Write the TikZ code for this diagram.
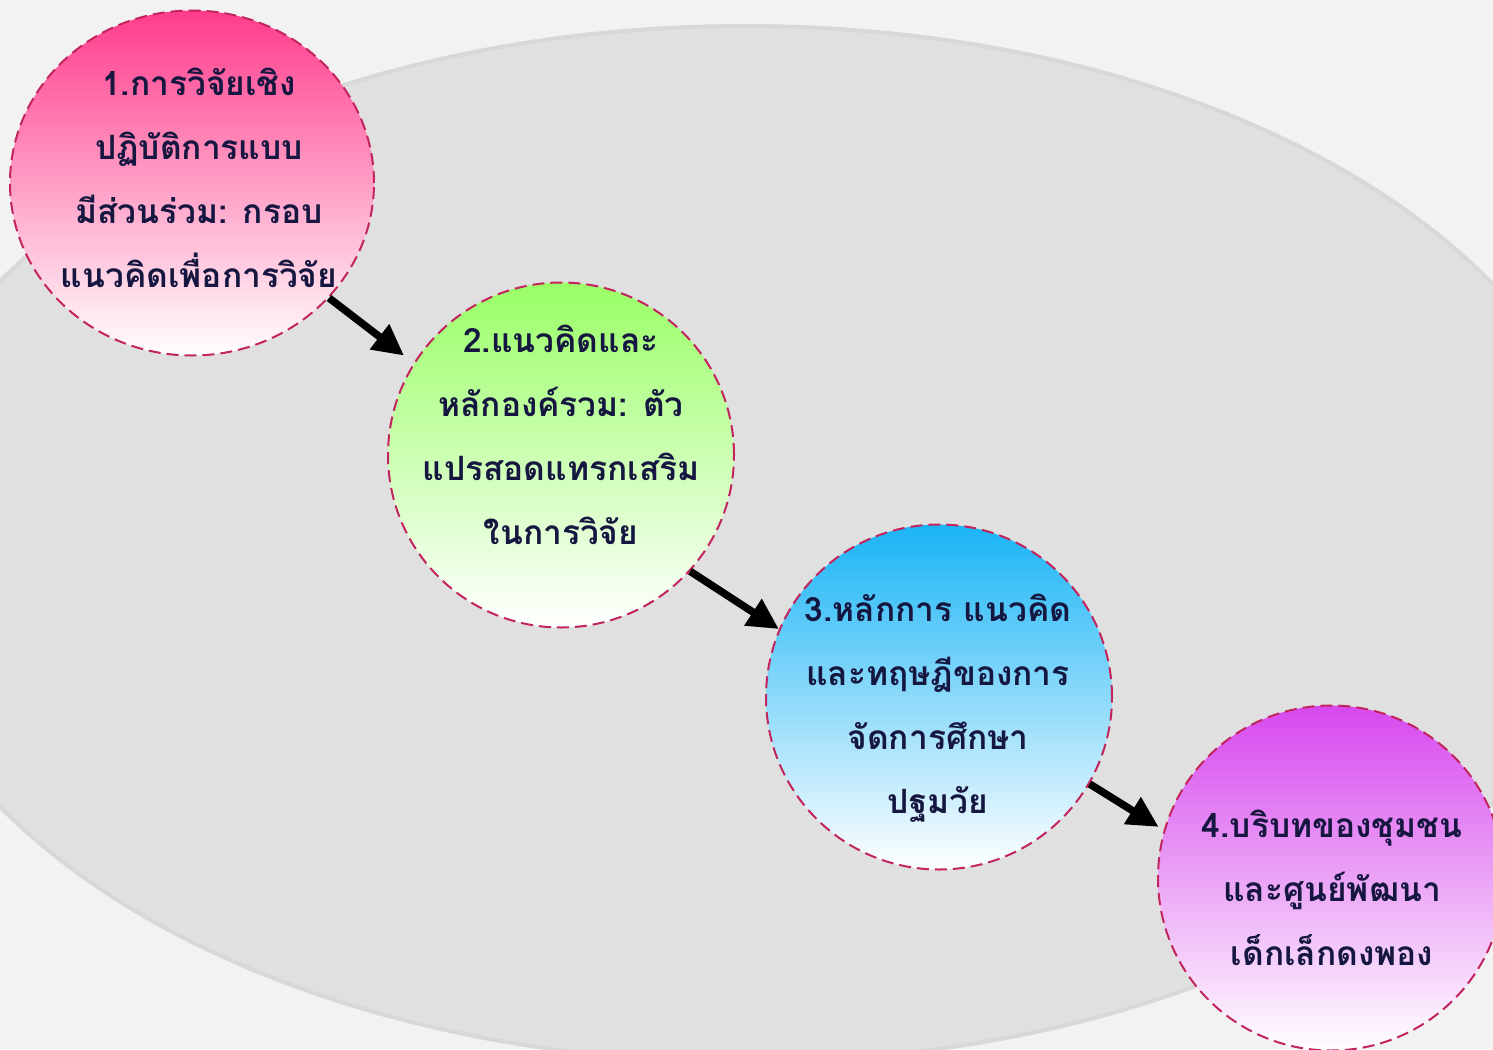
\documentclass[tikz,border=0pt]{standalone}
\usepackage{fontspec}
\newfontfamily\thaifont[Script=Thai]{Loma}
\usetikzlibrary{arrows.meta,shapes.geometric}
\definecolor{bgc}{HTML}{F2F2F2}
\definecolor{ellfill}{HTML}{E0E0E0}
\definecolor{elldraw}{HTML}{D8D8D8}
\definecolor{dashc}{HTML}{C2245E}
\definecolor{txtc}{HTML}{161740}
\definecolor{pinkc}{HTML}{FF3C8C}
\definecolor{greenc}{HTML}{99FF66}
\definecolor{bluec}{HTML}{19B4F6}
\definecolor{violc}{HTML}{D748EE}
\tikzset{
  bubble/.style={ellipse, draw=dashc, line width=2pt, dash pattern=on 12pt off 6pt,
    minimum width=346pt, minimum height=345pt, inner sep=0pt, bottom color=white},
  btext/.style={align=center, text=txtc, inner sep=0pt,
    font=\thaifont\bfseries\fontsize{33.5}{64}\selectfont},
  flow/.style={line width=7.5pt, -{Triangle[length=31pt,width=30pt]}}
}
\begin{document}
\begin{tikzpicture}[x=1pt,y=-1pt]
\path[use as bounding box] (0,0) rectangle (1493,1049);
\clip (0,0) rectangle (1493,1049);
\fill[bgc] (0,0) rectangle (1493,1049);
\draw[fill=ellfill, draw=elldraw, line width=4pt] (745,544) ellipse [x radius=864, y radius=518];

\node[bubble, top color=pinkc, minimum width=364pt] (c1) at (192,183) {};
\node[bubble, top color=greenc] (c2) at (561,455) {};
\node[bubble, top color=bluec] (c3) at (939,697) {};
\node[bubble, top color=violc] (c4) at (1331,878) {};

\node[btext] (t1) at (199,178) {1.การวิจัยเชิง\\ปฏิบัติการแบบ\\มีส่วนร่วม: กรอบ\\แนวคิดเพื่อการวิจัย};
\node[btext] (t2) at (561,435) {2.แนวคิดและ\\หลักองค์รวม: ตัว\\แปรสอดแทรกเสริม\\ในการวิจัย};
\node[btext] (t3) at (938,708) {3.หลักการ แนวคิด\\และทฤษฎีของการ\\จัดการศึกษา\\ปฐมวัย};
\node[btext] (t4) at (1332,888) {4.บริบทของชุมชน\\และศูนย์พัฒนา\\เด็กเล็กดงพอง};

\draw[flow, shorten >=12pt] (c1.-40) -- (c2.148);
\draw[flow] (c2.-42) -- (c3.157);
\draw[flow, shorten >=6pt] (c3.-30) -- (c4.164);
\end{tikzpicture}
\end{document}
